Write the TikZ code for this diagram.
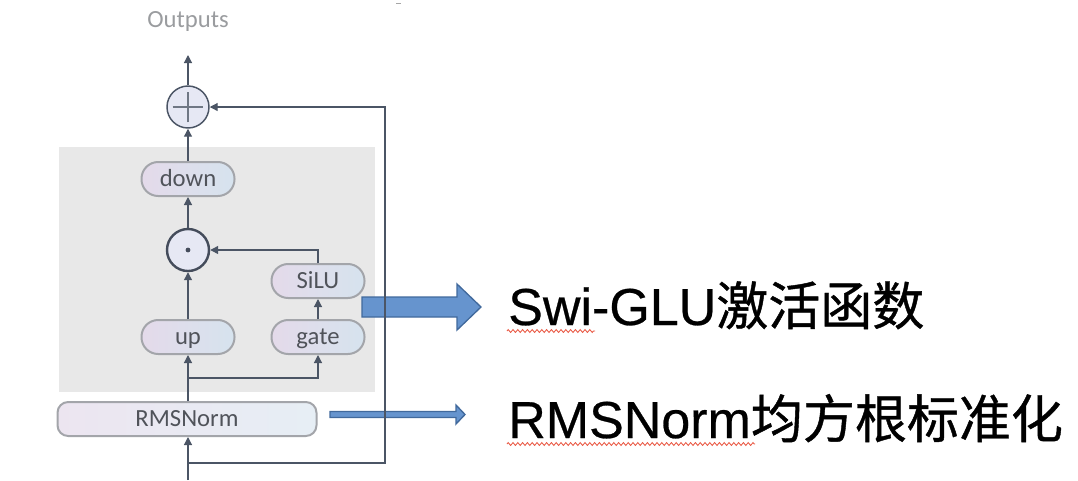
\documentclass[tikz,border=0pt]{standalone}
\usepackage{fontspec}
\newfontfamily\calfont{Carlito}
\newfontfamily\libfont[FakeBold=0.5]{Liberation Sans}
\newfontfamily\cjkfont[FakeBold=0.8]{Noto Sans CJK SC}
\usetikzlibrary{arrows.meta,decorations.pathmorphing}
\definecolor{lnc}{HTML}{4B5565}
\definecolor{pillb}{HTML}{A3A5AA}
\definecolor{pillL}{HTML}{E4DAEA}
\definecolor{pillR}{HTML}{D6E3EE}
\definecolor{txt}{HTML}{50535A}
\definecolor{outc}{HTML}{9A9C9F}
\definecolor{boxgray}{HTML}{E8E8E8}
\definecolor{circf}{HTML}{E6E8F4}
\definecolor{bluef}{HTML}{6694CE}
\definecolor{blueb}{HTML}{41699C}
\definecolor{squig}{HTML}{E8503A}
\begin{document}
\begin{tikzpicture}[x=0.75pt,y=-0.75pt,
  pill/.style={draw=pillb, line width=1.5pt, rounded corners=12.5pt,
    left color=pillL, right color=pillR, minimum width=69.75pt, minimum height=25.5pt,
    font=\calfont\fontsize{18.5}{21}\selectfont, text=txt, inner sep=0pt,
    text height=13.5pt, text depth=2.5pt},
  normbox/.style={pill, rounded corners=8pt, minimum width=194.25pt, left color=pillL!70!white, right color=pillR!60!white},
  opcirc/.style={circle, draw=lnc, line width=1.1pt, fill=circf, minimum size=31.5pt, inner sep=0pt},
  arr/.style={draw=lnc, line width=0.9pt, -{Triangle[length=6pt,width=6pt]}},
  bigtext/.style={anchor=base west, inner sep=0pt, font=\libfont\fontsize{39}{44}\selectfont, text=black},
  squiggle/.style={draw=squig, line width=0.6pt, decorate, decoration={zigzag, segment length=3.6pt, amplitude=1.1pt}},
  bluearrow/.style={fill=bluef, draw=blueb, line width=1pt, line join=miter}
]
\useasboundingbox (0,0) rectangle (1078,480);

% grey block
\fill[boxgray] (59,147) rectangle (375,392);

% tiny mark at top
\draw[gray!70, line width=0.5pt] (396,3) -- (401,3);

% nodes
\node[font=\calfont\fontsize{18.5}{21}\selectfont, text=outc] (outputs) at (188,21) {Outputs};
\coordinate (outtip) at (188,55);
\node[opcirc] (plus) at (188,107) {};
\draw[lnc!80, line width=0.8pt] ([xshift=-11.5pt]plus.center) -- ([xshift=11.5pt]plus.center)
  ([yshift=-11.5pt]plus.center) -- ([yshift=11.5pt]plus.center);
\node[pill] (down) at (188,179) {down};
\node[opcirc, line width=1.8pt, draw=lnc!90!black] (dot) at (188,250) {};
\fill[lnc!90!black] (dot.center) circle (1.8pt);
\node[pill] (silu) at (318,281) {SiLU};
\node[pill] (gate) at (318,337) {gate};
\node[pill] (up) at (188,337) {up};
\node[normbox] (rms) at (187,419) {RMSNorm};

% blue arrows
\path[bluearrow] (362,297) -- (457,297) -- (457,284) -- (481,307) -- (457,330) -- (457,317) -- (362,317) -- cycle;
\path[bluearrow] (330,411.5) -- (456,411.5) -- (456,405) -- (465,414.5) -- (456,424) -- (456,417.5) -- (330,417.5) -- cycle;

% connectors
\coordinate (in) at (188,480);
\coordinate (b2) at (188,463);
\coordinate (rc) at (385,463);
\coordinate (b1) at (188,378);
\draw[arr] (plus.north) -- (outtip);
\draw[arr] (down.north) -- (plus.south);
\draw[arr] (dot.north) -- (down.south);
\draw[arr] (up.north) -- (dot.south);
\draw[arr] (silu.north) |- (dot.east);
\draw[arr] (gate.north) -- (silu.south);
\draw[arr] (up.south |- rms.north) -- (up.south);
\draw[arr] (b1) -| (gate.south);
\draw[arr] (in) -- (in |- rms.south);
\draw[arr] (b2) -- (rc) |- (plus.east);

% labels
\node[bigtext] (swi) at (508,325) {Swi-GLU{\cjkfont 激活函数}};
\node[bigtext] (rmst) at (508,438) {RMSNorm{\cjkfont 均方根标准化}};
\draw[squiggle] (507,331) -- (595,331);
\draw[squiggle] (507,444) -- (755,444);
\end{tikzpicture}
\end{document}
